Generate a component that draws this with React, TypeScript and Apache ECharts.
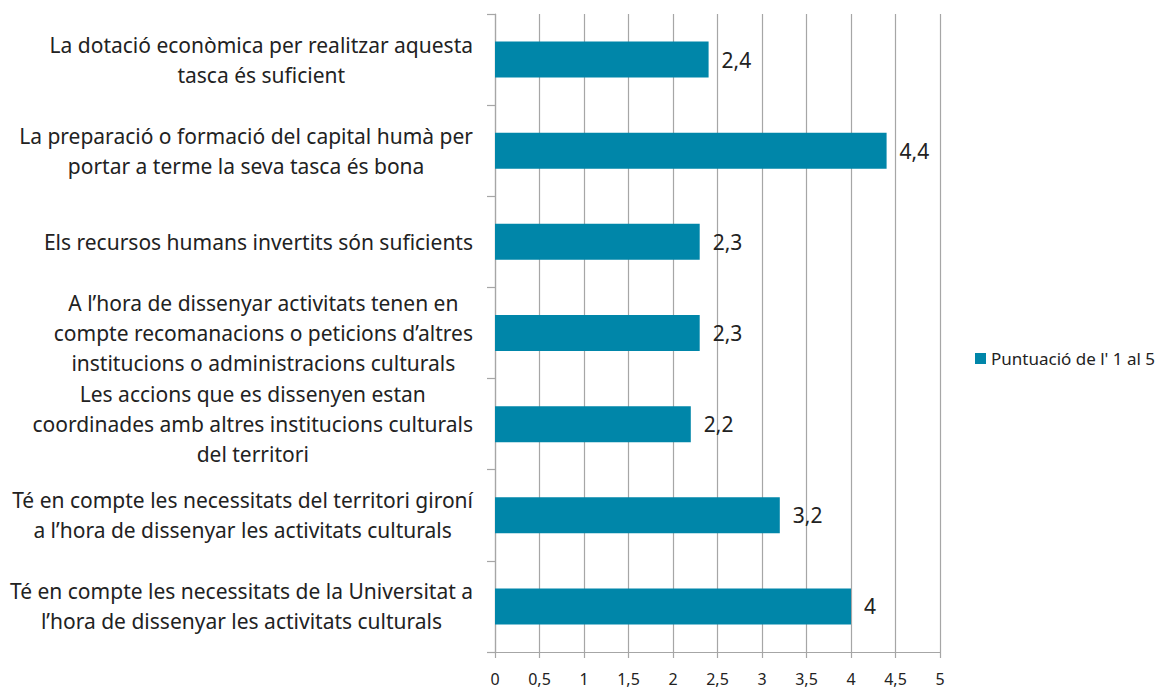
import React, { useEffect, useRef } from "react";
import * as echarts from "echarts";

const categories: string[] = [
  "La dotació econòmica per realitzar aquesta\ntasca és suficient",
  "La preparació o formació del capital humà per\nportar a terme la seva tasca és bona",
  "Els recursos humans invertits són suficients",
  "A l’hora de dissenyar activitats tenen en\ncompte recomanacions o peticions d’altres\ninstitucions o administracions culturals",
  "Les accions que es dissenyen estan\ncoordinades amb altres institucions culturals\ndel territori",
  "Té en compte les necessitats del territori gironí\na l’hora de dissenyar les activitats culturals",
  "Té en compte les necessitats de la Universitat a\nl’hora de dissenyar les activitats culturals",
];

const values: number[] = [2.4, 4.4, 2.3, 2.3, 2.2, 3.2, 4];

const seriesName = "Puntuació de l' 1 al 5";

const xMin = 0;
const xMax = 5;
const xInterval = 0.5;

const FONT = "'Noto Sans', 'Open Sans', sans-serif";
const TEXT = "#222222";
const GRID = "#a6a6a6";
const BAR = "#0086a9";

const comma = (v: number) => String(v).replace(".", ",");

export default function App() {
  const ref = useRef<HTMLDivElement>(null);

  useEffect(() => {
    if (!ref.current) return;
    const chart = echarts.init(ref.current, undefined, { renderer: "svg" });
    chart.setOption({
      animation: false,
      backgroundColor: "#ffffff",
      textStyle: { fontFamily: FONT },
      legend: {
        data: [seriesName],
        left: 970,
        top: 345,
        icon: "rect",
        itemWidth: 11,
        itemHeight: 11,
        textStyle: { fontSize: 17, color: TEXT, fontFamily: FONT },
      },
      grid: {
        left: 495,
        right: 223,
        top: 14,
        bottom: 42,
        containLabel: false,
        outerBoundsMode: "none",
      },
      xAxis: {
        type: "value",
        min: xMin,
        max: xMax,
        interval: xInterval,
        axisLine: { show: true, lineStyle: { color: GRID, width: 1.2 } },
        axisTick: { show: true, length: 6, lineStyle: { color: GRID, width: 1.2 } },
        splitLine: { show: true, lineStyle: { color: GRID, width: 1.2 } },
        axisLabel: {
          margin: 19,
          fontSize: 16,
          color: TEXT,
          fontFamily: FONT,
          formatter: (v: number) => comma(v),
        },
      },
      yAxis: {
        type: "category",
        inverse: true,
        data: categories,
        axisLine: { show: true, lineStyle: { color: GRID, width: 1.2 } },
        axisTick: { show: true, length: 8, lineStyle: { color: GRID, width: 1.2 } },
        axisLabel: {
          margin: 22,
          align: "right",
          formatter: (v: string) =>
            v
              .split("\n")
              .map((l) => `{c|${l}}`)
              .join("\n"),
          rich: {
            c: {
              align: "center",
              fontSize: 21,
              lineHeight: 30,
              color: TEXT,
              fontFamily: FONT,
            },
          },
        },
      },
      series: [
        {
          name: seriesName,
          type: "bar",
          data: values,
          barWidth: 36,
          itemStyle: { color: BAR },
          label: {
            show: true,
            position: "right",
            distance: 13,
            fontSize: 21,
            color: TEXT,
            fontFamily: FONT,
            formatter: (p: any) => comma(p.value),
          },
        },
      ],
    });
    return () => chart.dispose();
  }, []);

  return (
    <div
      ref={ref}
      style={{ position: "fixed", left: 0, top: 0, width: 1163, height: 694 }}
    />
  );
}
